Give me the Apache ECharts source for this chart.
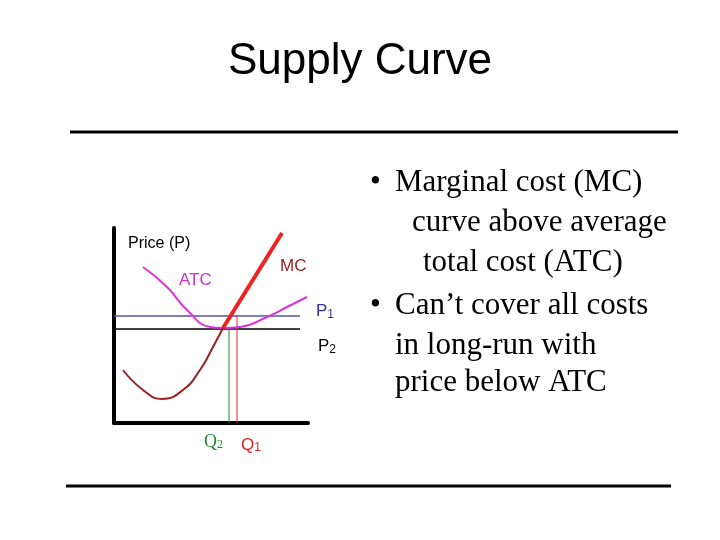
<!DOCTYPE html><html><head><meta charset="utf-8"><script src="https://cdn.jsdelivr.net/npm/echarts@6/dist/echarts.min.js"></script>
<style>html,body{margin:0;background:#fff}#c{width:720px;height:540px}</style></head><body><div id="c"></div><script>
const atcCurve=[[29,156],[53,136],[73,113],[96,96],[109,95],[126,96],[153,106],[173,116],[193,126]];
const mcLower=[[9,53],[29,33],[48,24],[69,33],[86,53],[99,76],[109,95]];
const mcUpper=[[109,95],[168,190]];
const p1=[[0,107],[186,107]];
const p2=[[0,94],[186,94]];
const q2=[[115,0],[115,94]];
const q1=[[123,0],[123,107]];
const bullets=["Marginal cost (MC)","curve above average","total cost (ATC)","Can’t cover all costs","in long-run with","price below ATC"];
const bulletX=[395,412,423,395,395,395];
const bulletY=[186,226,266,309,349,386];
const chart=echarts.init(document.getElementById('c'));
const ln=(d,c,w,smooth)=>({type:'line',data:d,smooth:smooth||false,symbol:'none',lineStyle:{color:c,width:w},silent:true});
const g=[
 {type:'text',left:'center',top:40,style:{text:'Supply Curve',font:'44px "Liberation Sans"',fill:'#000'}},
 {type:'line',shape:{x1:70,y1:132,x2:678,y2:132},style:{stroke:'#000',lineWidth:3}},
 {type:'line',shape:{x1:66,y1:486,x2:671,y2:486},style:{stroke:'#000',lineWidth:3}},
 {type:'text',x:128,y:236,style:{text:'Price (P)',font:'16px "Liberation Sans"',fill:'#000'}},
 {type:'text',x:179,y:272,style:{text:'ATC',font:'17px "Liberation Sans"',fill:'#cc33cc'}},
 {type:'text',x:280,y:258,style:{text:'MC',font:'17px "Liberation Sans"',fill:'#992222'}},
 {type:'text',x:316,y:301,style:{rich:{a:{font:'17px "Liberation Sans"',fill:'#33338a'},s:{font:'12px "Liberation Sans"',fill:'#33338a',padding:[8,0,0,0]}},text:'{a|P}{s|1}'}},
 {type:'text',x:318,y:336,style:{rich:{a:{font:'17px "Liberation Sans"',fill:'#000'},s:{font:'12px "Liberation Sans"',fill:'#000',padding:[8,0,0,0]}},text:'{a|P}{s|2}'}},
 {type:'text',x:204,y:433,style:{rich:{a:{font:'18px "Liberation Serif"',fill:'#228833'},s:{font:'12px "Liberation Serif"',fill:'#228833',padding:[6,0,0,0]}},text:'{a|Q}{s|2}'}},
 {type:'text',x:241,y:436,style:{rich:{a:{font:'17px "Liberation Sans"',fill:'#dd2222'},s:{font:'12px "Liberation Sans"',fill:'#dd2222',padding:[6,0,0,0]}},text:'{a|Q}{s|1}'}},
 {type:'text',x:370,y:bulletY[0]-19,style:{text:'•',font:'31px "Liberation Serif"',fill:'#000'}},
 {type:'text',x:370,y:bulletY[3]-19,style:{text:'•',font:'31px "Liberation Serif"',fill:'#000'}}
];
bullets.forEach((t,i)=>g.push({type:'text',x:bulletX[i],y:bulletY[i]-19,style:{text:t,font:'31px "Liberation Serif"',fill:'#000'}}));
chart.setOption({animation:false,
 grid:{left:114,top:228,width:194,height:195},
 xAxis:{type:'value',min:0,max:194,axisLine:{onZero:false,lineStyle:{color:'#000',width:4}},axisTick:{show:false},axisLabel:{show:false},splitLine:{show:false}},
 yAxis:{type:'value',min:0,max:195,axisLine:{show:true,onZero:false,lineStyle:{color:'#000',width:4}},axisTick:{show:false},axisLabel:{show:false},splitLine:{show:false}},
 series:[ln(p1,'#5555aa',1.5),ln(p2,'#000',1.5),ln(q2,'#228833',1),ln(q1,'#dd2222',1),ln(atcCurve,'#dd33dd',2,0.5),ln(mcLower,'#992222',2,0.5),ln(mcUpper,'#ee2222',4)],
 graphic:g});
</script></body></html>
